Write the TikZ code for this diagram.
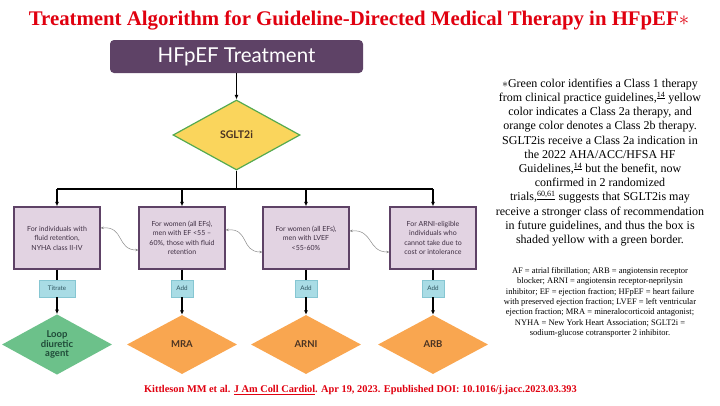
\documentclass[tikz,border=0pt]{standalone}
\usepackage{fontspec}
\setmainfont{Liberation Serif}
\newfontfamily\diag{Lato}
\usetikzlibrary{shapes.geometric,arrows.meta}
\definecolor{titlered}{HTML}{E0000F}
\definecolor{hdrpurple}{HTML}{5E4266}
\definecolor{boxfill}{HTML}{E2D3E2}
\definecolor{boxedge}{HTML}{5E4266}
\definecolor{boxtext}{HTML}{3E2E42}
\definecolor{tagfill}{HTML}{A9DCE5}
\definecolor{tagedge}{HTML}{86C6D2}
\definecolor{tagtext}{HTML}{2F5560}
\definecolor{sgltfill}{HTML}{FAD55C}
\definecolor{sgltedge}{HTML}{55AA50}
\definecolor{loopfill}{HTML}{6CC18A}
\definecolor{looptext}{HTML}{1F4A38}
\definecolor{orangefill}{HTML}{F9A650}
\definecolor{orangetext}{HTML}{4A3322}
\definecolor{wavegrey}{HTML}{8A8A8A}
\tikzset{
  hdrbox/.style={draw=none, fill=hdrpurple, rounded corners=4pt, minimum width=253pt, minimum height=33pt, text=white, font=\diag\fontsize{20.5}{22}\selectfont},
  critbox/.style={draw=boxedge, line width=1.3pt, fill=boxfill, minimum width=86pt, minimum height=62pt, align=center, text=boxtext, inner sep=1pt, font=\diag\fontsize{7}{9.5}\selectfont},
  tagbox/.style={draw=tagedge, line width=0.6pt, fill=tagfill, minimum height=17pt, text=tagtext, inner sep=1pt, font=\diag\fontsize{6.3}{7}\selectfont},
  drugdia/.style={diamond, draw=none, inner sep=0pt, minimum width=110pt, minimum height=59pt, align=center, font=\diag\bfseries\fontsize{9.5}{9.7}\selectfont},
  flowarrow/.style={line width=1.2pt, -{Latex[length=4.5pt,width=4pt]}},
  flowline/.style={line width=1.2pt},
  wavy/.style={wavegrey, line width=0.5pt, {Stealth[length=3pt,width=2.5pt]}-{Stealth[length=3pt,width=2.5pt]}},
}
\begin{document}
\begin{tikzpicture}[x=1pt,y=-1pt]
\useasboundingbox (0,0) rectangle (720,405);
\node[text=titlered, font=\bfseries\fontsize{20.8}{23}\selectfont] (title) at (359,20) {Treatment Algorithm for Guideline-Directed Medical Therapy in HFpEF$\ast$};

\node[hdrbox] (hdr) at (236.5,56.5) {HFpEF Treatment};
\node[diamond, draw=sgltedge, line width=1.2pt, fill=sgltfill, inner sep=0pt, minimum width=127pt, minimum height=70pt, text=orangetext, font=\diag\bfseries\fontsize{10.5}{12}\selectfont] (sglt) at (236.5,135) {SGLT2i};
\draw[flowarrow] (hdr.south) -- (sglt.north);

\coordinate (bus) at (236.5,189);
\coordinate (c1) at (57,189);
\coordinate (c2) at (182,189);
\coordinate (c3) at (306,189);
\coordinate (c4) at (433,189);
\draw[flowline] (sglt.south) -- (bus);
\draw[flowline] (c1) -- (c4);

\node[critbox] (b1) at (57,238) {For individuals with\\fluid retention,\\NYHA class II-IV};
\node[critbox] (b2) at (182,238) {For women (all EFs),\\men with EF <55 –\\60\%, those with fluid\\retention};
\node[critbox] (b3) at (306,238) {For women (all EFs),\\men with LVEF\\<55-60\%};
\node[critbox] (b4) at (433,238) {For ARNI-eligible\\individuals who\\cannot take due to\\cost or intolerance};

\draw[flowarrow] (c1) -- (b1.north);
\draw[flowarrow] (c2) -- (b2.north);
\draw[flowarrow] (c3) -- (b3.north);
\draw[flowarrow] (c4) -- (b4.north);

\draw[wavy] ([yshift=10pt]b1.east) .. controls +(24,-2) and +(-22,0) .. ([yshift=-12pt]b2.west);
\draw[wavy] ([yshift=8pt]b2.east) .. controls +(24,-2) and +(-22,0) .. ([yshift=-14pt]b3.west);
\draw[wavy] ([yshift=7pt]b3.east) .. controls +(24,-2) and +(-22,0) .. ([yshift=-14pt]b4.west);

\node[tagbox, minimum width=36pt] (t1) at (57,288.5) {Titrate};
\node[tagbox, minimum width=22pt] (t2) at (182,288.5) {Add};
\node[tagbox, minimum width=22pt] (t3) at (306,288.5) {Add};
\node[tagbox, minimum width=22pt] (t4) at (433,288.5) {Add};

\node[drugdia, fill=loopfill, text=looptext] (d1) at (57,344.5) {Loop\\diuretic\\agent};
\node[drugdia, fill=orangefill, text=orangetext] (d2) at (182,344.5) {MRA};
\node[drugdia, fill=orangefill, text=orangetext] (d3) at (306,344.5) {ARNI};
\node[drugdia, fill=orangefill, text=orangetext] (d4) at (433,344.5) {ARB};

\draw[flowline] (b1.south) -- (t1.north);
\draw[flowline] (b2.south) -- (t2.north);
\draw[flowline] (b3.south) -- (t3.north);
\draw[flowline] (b4.south) -- (t4.north);
\draw[flowarrow] (t1.south) -- (d1.north);
\draw[flowarrow] (t2.south) -- (d2.north);
\draw[flowarrow] (t3.south) -- (d3.north);
\draw[flowarrow] (t4.south) -- (d4.north);

\node[align=center, font=\fontsize{12}{14.2}\selectfont] (note) at (600,162.5) {$\ast$Green color identifies a Class 1 therapy\\from clinical practice guidelines,\textsuperscript{\underline{14}} yellow\\color indicates a Class 2a therapy, and\\orange color denotes a Class 2b therapy.\\SGLT2is receive a Class 2a indication in\\the 2022 AHA/ACC/HFSA HF\\Guidelines,\textsuperscript{\underline{14}} but the benefit, now\\confirmed in 2 randomized\\trials,\textsuperscript{\underline{60,61}} suggests that SGLT2is may\\receive a stronger class of recommendation\\in future guidelines, and thus the box is\\shaded yellow with a green border.};

\node[align=center, font=\fontsize{8.5}{10.3}\selectfont] (abbr) at (600,302.5) {AF = atrial fibrillation; ARB = angiotensin receptor\\blocker; ARNI = angiotensin receptor-neprilysin\\inhibitor; EF = ejection fraction; HFpEF = heart failure\\with preserved ejection fraction; LVEF = left ventricular\\ejection fraction; MRA = mineralocorticoid antagonist;\\NYHA = New York Heart Association; SGLT2i =\\sodium-glucose cotransporter 2 inhibitor.};

\node[text=titlered, font=\bfseries\fontsize{10.35}{12}\selectfont] (cite) at (360.5,390) {Kittleson MM et al. \underline{J Am Coll Cardiol}. Apr 19, 2023. Epublished DOI: 10.1016/j.jacc.2023.03.393};
\end{tikzpicture}
\end{document}
